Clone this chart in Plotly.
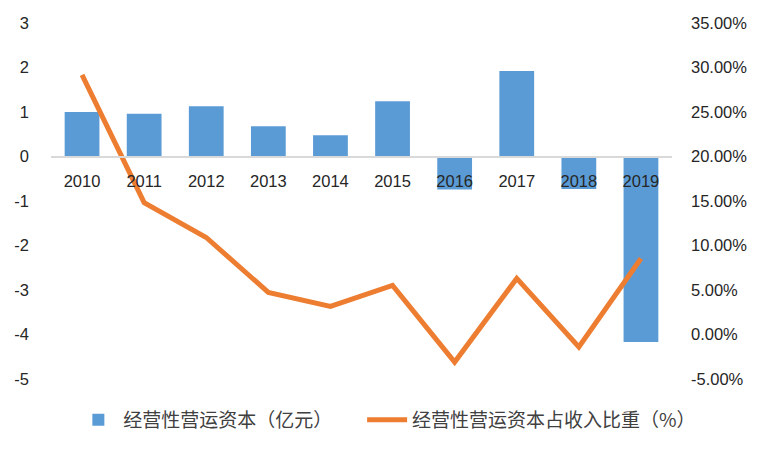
import plotly.graph_objects as go

years = ["2010", "2011", "2012", "2013", "2014", "2015", "2016", "2017", "2018", "2019"]
working_capital = [1.00, 0.96, 1.13, 0.68, 0.48, 1.24, -0.74, 1.92, -0.73, -4.17]
ratio = [0.2917, 0.1482, 0.1090, 0.0473, 0.0316, 0.0552, -0.0310, 0.0630, -0.0140, 0.0854]

y_ticks = [-5, -4, -3, -2, -1, 0, 1, 2, 3]
y_tick_labels = ["-5", "-4", "-3", "-2", "-1", "0", "1", "2", "3"]
y2_ticks = [-0.05, 0.0, 0.05, 0.10, 0.15, 0.20, 0.25, 0.30, 0.35]
y2_tick_labels = ["-5.00%", "0.00%", "5.00%", "10.00%", "15.00%", "20.00%", "25.00%", "30.00%", "35.00%"]

bar_name = "经营性营运资本（亿元）"
line_name = "经营性营运资本占收入比重（%）"

W, H = 759, 450
L, R, T, B = 50.5, 87, 23, 71

tick_font = dict(family="Liberation Sans, Arial, sans-serif", size=16.5, color="#262626")
legend_font = dict(family="Noto Sans CJK SC", size=19, color="#404040")

fig = go.Figure()
fig.add_trace(go.Bar(x=years, y=working_capital, name=bar_name,
                     marker=dict(color="#5B9BD5", line=dict(width=0)),
                     yaxis="y", legend="legend"))
fig.add_trace(go.Scatter(x=years, y=ratio, name=line_name, mode="lines",
                         line=dict(color="#ED7D31", width=5),
                         yaxis="y2", legend="legend2"))

fig.update_layout(
    width=W, height=H,
    margin=dict(l=L, r=R, t=T, b=B, pad=0, autoexpand=False),
    paper_bgcolor="white", plot_bgcolor="white",
    bargap=0.44,
    showlegend=True,
    legend=dict(orientation="h", x=0.036, xanchor="left", y=-0.115, yanchor="middle",
                font=legend_font, itemwidth=40, bgcolor="rgba(0,0,0,0)"),
    legend2=dict(orientation="h", x=0.501, xanchor="left", y=-0.115, yanchor="middle",
                 font=legend_font, itemwidth=40, bgcolor="rgba(0,0,0,0)"),
    xaxis=dict(type="category", anchor="free", position=0.625,
               showline=True, linecolor="#D9D9D9", linewidth=1.5,
               ticks="", showgrid=False, tickfont=tick_font,
               ticklabelstandoff=10, layer="above traces"),
    yaxis=dict(range=[-5, 3], tickvals=y_ticks, ticktext=y_tick_labels,
               showgrid=False, zeroline=False,
               showline=False, ticks="", tickfont=tick_font,
               ticklabelstandoff=21),
    yaxis2=dict(range=[-0.05, 0.35], tickvals=y2_ticks, ticktext=y2_tick_labels,
                overlaying="y", side="right", showgrid=False, zeroline=False,
                showline=False, ticks="", tickfont=tick_font,
                ticklabelstandoff=18),
)

fig.write_html("out.html")
